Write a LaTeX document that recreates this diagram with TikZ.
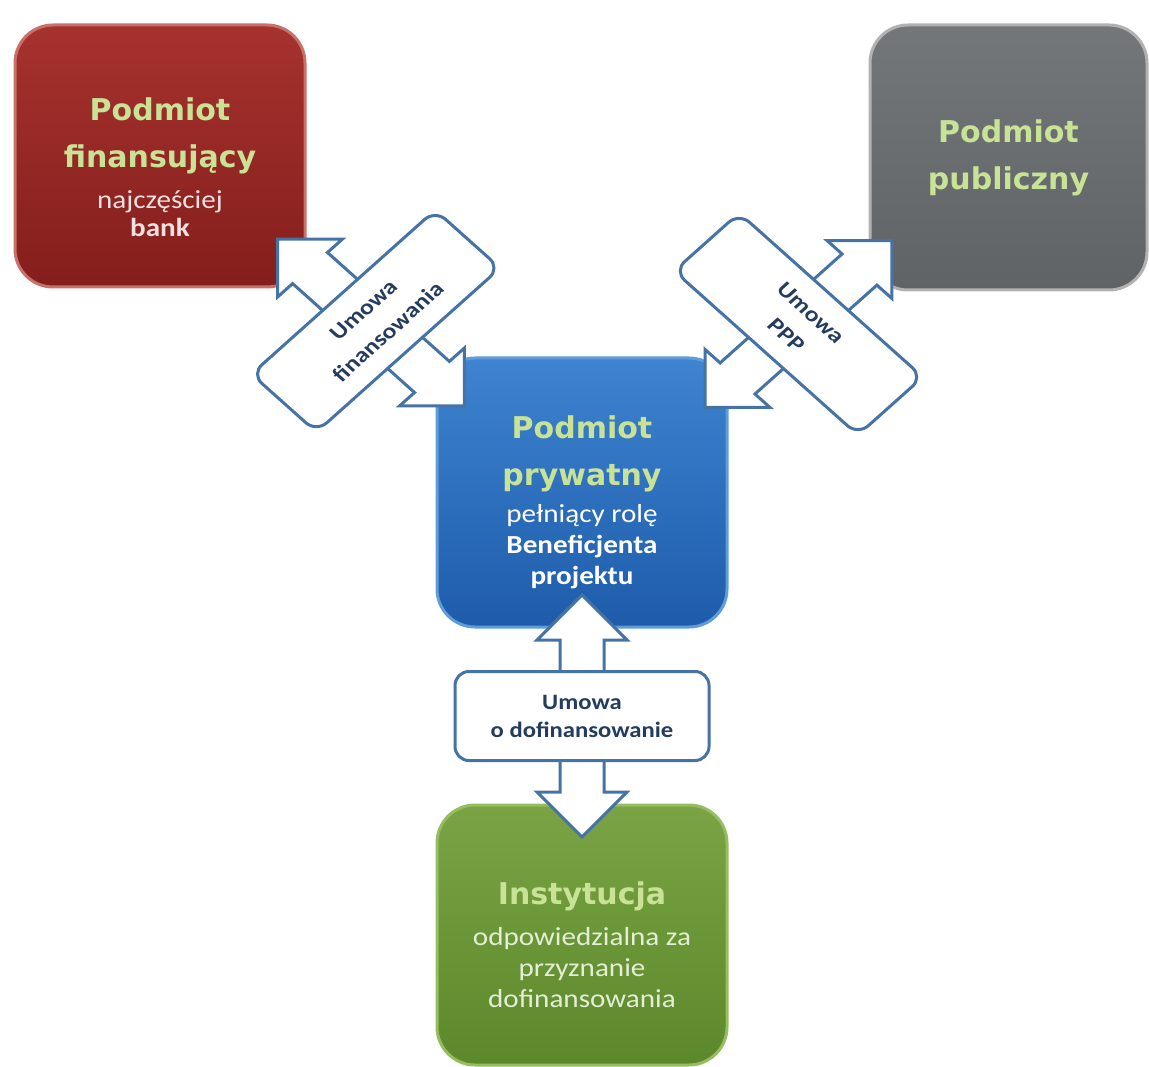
\documentclass[tikz,border=0pt]{standalone}
\usepackage{fontspec}
\setmainfont{Carlito}[FakeStretch=1.12]
\newfontfamily\titlefont{DejaVu Sans}
\usetikzlibrary{calc}

\definecolor{titlegreen}{RGB}{200,226,150}
\definecolor{arrowblue}{RGB}{70,115,165}
\definecolor{dealtext}{RGB}{35,60,95}

\newcommand{\bodytxt}{\fontsize{26}{31}\selectfont}
\newcommand{\tit}[1]{{\titlefont\bfseries\fontsize{30}{36}\selectfont\color{titlegreen}#1}}
% double block arrow, #1 half length, #2 head size
\newcommand{\dblarrow}[2]{%
  \draw[arrowline] (-#1,0) -- ++(#2,#2) -- ++(0,-#2+22) -- (#1-#2,22) -- ++(0,#2-22)
    -- (#1,0) -- ++(-#2,-#2) -- ++(0,#2-22) -- (-#1+#2,-22) -- ++(0,-#2+22) -- cycle;}

\begin{document}
\begin{tikzpicture}[x=1pt, y=-1pt,
    box/.style={rounded corners=38pt, minimum width=290, minimum height=262, line width=3pt},
    boxtext/.style={align=center, font=\bodytxt},
    redbox/.style={box, top color={rgb,255:red,166;green,50;blue,46}, bottom color={rgb,255:red,132;green,30;blue,28},
      draw={rgb,255:red,200;green,112;blue,106}},
    greybox/.style={box, top color={rgb,255:red,116;green,119;blue,122}, bottom color={rgb,255:red,96;green,99;blue,102},
      draw={rgb,255:red,178;green,178;blue,178}},
    bluebox/.style={box, top color={rgb,255:red,62;green,132;blue,208}, bottom color={rgb,255:red,30;green,92;blue,170},
      draw={rgb,255:red,96;green,156;blue,218}},
    greenbox/.style={box, top color={rgb,255:red,122;green,164;blue,68}, bottom color={rgb,255:red,92;green,136;blue,44},
      draw={rgb,255:red,150;green,190;blue,96}},
    arrowline/.style={draw=arrowblue, fill=white, line width=3pt, line join=miter},
    deal/.style={draw=arrowblue, fill=white, line width=3pt, rounded corners=14pt, align=center,
      text=dealtext, font=\fontsize{22}{28}\selectfont\bfseries}]

    % Canvas
    \useasboundingbox[fill=white] (0,0) rectangle (1149,1067);

    % Parties
    \node[redbox] (fin) at (160,156) {};
    \node[greybox, minimum width=277, minimum height=265] (pub) at (1008.5,157.5) {};
    \node[bluebox, minimum height=269] (priv) at (582,492.5) {};
    \node[greenbox, minimum height=260] (inst) at (582,935) {};

    \node[boxtext, text={rgb,255:red,238;green,225;blue,222}] (fin-t) at ([yshift=-11pt]fin.center)
        {\tit{Podmiot}\\[16pt]\tit{finansujący}\\[10pt]najczęściej\\[-3pt]\textbf{bank}};
    \node[boxtext] (pub-t) at (pub.center)
        {\tit{Podmiot}\\[16pt]\tit{publiczny}};
    \node[boxtext, text=white] (priv-t) at ([yshift=-10pt]priv.center)
        {\tit{Podmiot}\\[16pt]\tit{prywatny}\\[6pt]pełniący rolę\\\textbf{Beneficjenta}\\\textbf{projektu}};
    \node[boxtext, text={rgb,255:red,228;green,238;blue,214}] (inst-t) at ([yshift=-10pt]inst.center)
        {\tit{Instytucja}\\[10pt]odpowiedzialna za\\przyznanie\\dofinansowania};

    % Agreements
    \coordinate (c1) at ($(fin.south east)!0.5!(priv.north west)$);
    \coordinate (c2) at ($(pub.south west)!0.5!(priv.north east)$);
    \coordinate (c3) at ($(priv.south)!0.5!(inst.north)$);

    \begin{scope}[shift={(c1)}, xscale=1.12, rotate=-45]
        \dblarrow{118}{41}
        \node[deal, transform shape, rotate=90, minimum width=232, minimum height=82,
            font=\fontsize{21}{26}\selectfont\bfseries] (d1) at (2,-4) {Umowa\\[5pt]finansowania};
    \end{scope}
    \begin{scope}[shift={(c2)}, xscale=1.12, rotate=45]
        \dblarrow{118}{41}
        \node[deal, transform shape, rotate=-90, minimum width=232, minimum height=82,
            font=\fontsize{21}{26}\selectfont\bfseries] (d2) at (0,0) {Umowa\\[5pt]PPP};
    \end{scope}
    \begin{scope}[shift={(c3)}, rotate=90]
        \dblarrow{121}{45}
    \end{scope}
    \node[deal, minimum width=254, minimum height=89] (d3) at (c3) {Umowa\\o dofinansowanie};
\end{tikzpicture}
\end{document}
